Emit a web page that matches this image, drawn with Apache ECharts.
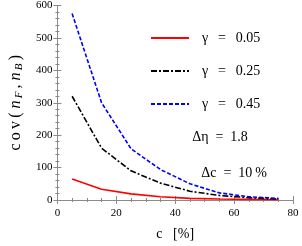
<!DOCTYPE html>
<html><head><meta charset="utf-8">
<script src="https://cdn.jsdelivr.net/npm/echarts@6/dist/echarts.min.js"></script>
<style>html,body{margin:0;padding:0;background:#fff}#c{width:302px;height:246px}</style>
</head><body><div id="c"></div>
<script>
const cValues = [5, 15, 25, 35, 45, 55, 65, 75];
const gamma005 = [65, 33, 19, 10, 5, 3, 2, 1];
const gamma025 = [320, 160, 90, 52, 27, 14, 7, 3];
const gamma045 = [575, 300, 158, 94, 50, 22, 10, 5];
const seriesNames = ['\u03b3\u2002\u2009=\u2002\u20090.05', '\u03b3\u2002\u2009=\u2002\u20090.25', '\u03b3\u2002\u2009=\u2002\u20090.45'];
const xTicks = [0, 20, 40, 60, 80];
const yTicks = [0, 100, 200, 300, 400, 500, 600];

const F = 'Liberation Serif';
const frame = '#8a8a8a';
const pair = arr => cValues.map((c, i) => [c, arr[i]]);

const baseAxis = {
  axisLine: {show: true, lineStyle: {color: frame, width: 1}},
  axisTick: {show: true, inside: true, length: 4, lineStyle: {color: frame}},
  minorTick: {show: true, length: 2, lineStyle: {color: frame}},
  splitLine: {show: false},
  axisLabel: {fontFamily: F, fontSize: 11, color: '#000'}
};

const chart = echarts.init(document.getElementById('c'), null, {renderer: 'canvas'});
chart.setOption({
  animation: false,
  grid: {left: 47, right: 9, top: 5, bottom: 42},
  xAxis: [
    Object.assign({}, baseAxis, {type: 'value', min: xTicks[0], max: xTicks[xTicks.length-1], interval: 20,
      minorTick: {show: true, splitNumber: 4, length: 2, lineStyle: {color: frame}},
      axisLabel: {fontFamily: F, fontSize: 11, color: '#000', margin: 8},
      name: 'c\u2002 [%]', nameLocation: 'middle', nameGap: 27,
      nameTextStyle: {fontFamily: F, fontSize: 14, color: '#000'}}),
    Object.assign({}, baseAxis, {type: 'value', position: 'top', min: 0, max: 80, interval: 20,
      minorTick: {show: true, splitNumber: 4, length: 2, lineStyle: {color: frame}},
      axisLabel: {show: false}})
  ],
  yAxis: [
    Object.assign({}, baseAxis, {type: 'value', min: yTicks[0], max: yTicks[yTicks.length-1], interval: 100,
      minorTick: {show: true, splitNumber: 5, length: 2, lineStyle: {color: frame}},
      axisLabel: {fontFamily: F, fontSize: 11, color: '#000', margin: 5},
      name: '{a|c\u2009o\u2009v\u2009( }{i|n}{s|\u2009F}{a|\u2009, }{i|n}{s|\u2009B}{a|\u2009)}', nameLocation: 'middle', nameGap: 29,
      nameTextStyle: {rich: {
        a: {fontFamily: F, fontSize: 16, color: '#000'},
        i: {fontFamily: F, fontSize: 16, fontStyle: 'italic', color: '#000'},
        s: {fontFamily: F, fontSize: 11, fontStyle: 'italic', color: '#000', verticalAlign: 'bottom', padding: [7, 0, 0, 0]}
      }}}),
    Object.assign({}, baseAxis, {type: 'value', position: 'right', min: 0, max: 600, interval: 100,
      minorTick: {show: true, splitNumber: 5, length: 2, lineStyle: {color: frame}},
      axisLabel: {show: false}})
  ],
  legend: {
    orient: 'vertical', left: 150, top: 31, padding: 0,
    itemWidth: 38, itemHeight: 14, itemGap: 19,
    itemStyle: {opacity: 0},
    textStyle: {fontFamily: F, fontSize: 14, color: '#000', padding: [0, 0, 0, 8]},
    data: seriesNames
  },
  graphic: [
    {type: 'text', x: 220, y: 137, style: {text: '\u0394\u03b7\u2002=\u20021.8', font: '14px "Liberation Serif"', fill: '#000', align: 'center', verticalAlign: 'middle'}},
    {type: 'text', x: 234, y: 173, style: {text: '\u0394c\u2002=\u200210\u2009%', font: '14px "Liberation Serif"', fill: '#000', align: 'center', verticalAlign: 'middle'}}
  ],
  series: [
    {name: seriesNames[0], type: 'line', data: pair(gamma005), symbol: 'none',
      lineStyle: {color: '#ff0000', width: 1.6, type: 'solid'}, itemStyle: {color: '#ff0000'}},
    {name: seriesNames[1], type: 'line', data: pair(gamma025), symbol: 'none',
      lineStyle: {color: '#000000', width: 1.6, type: [6, 2, 2, 2]}, itemStyle: {color: '#000'}},
    {name: seriesNames[2], type: 'line', data: pair(gamma045), symbol: 'none',
      lineStyle: {color: '#0000ff', width: 1.6, type: [4, 2]}, itemStyle: {color: '#0000ff'}}
  ]
});
</script></body></html>
